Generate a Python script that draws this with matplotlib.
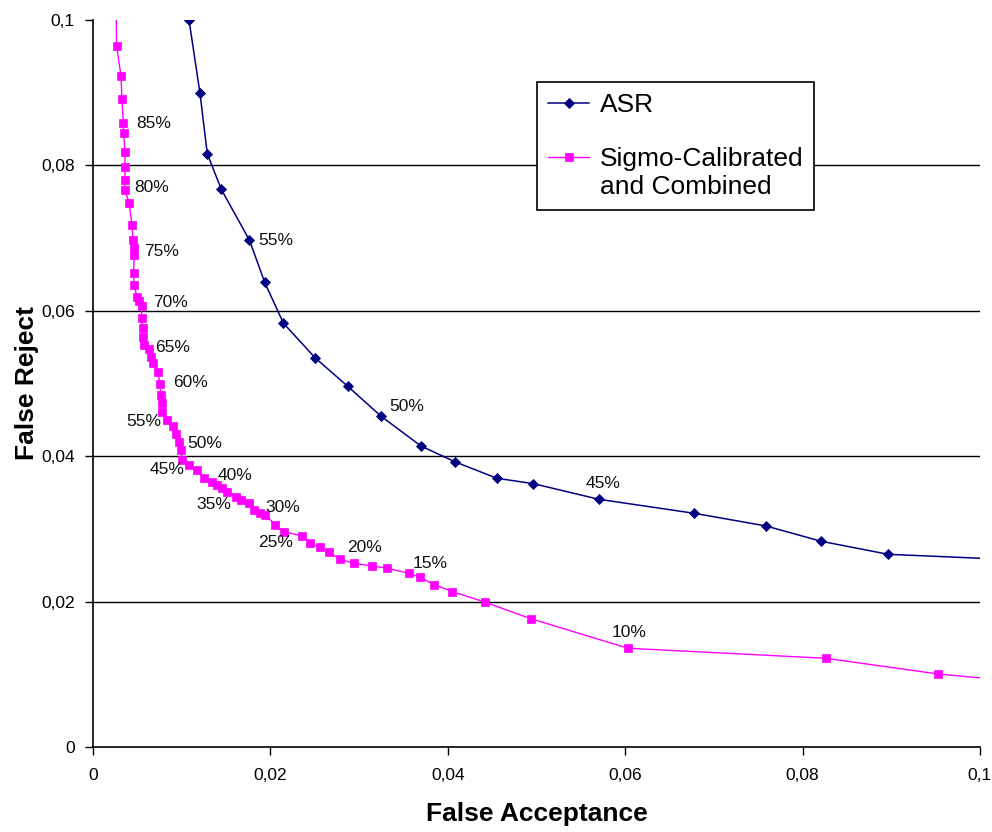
import numpy as np
import matplotlib
matplotlib.use("Agg")
import matplotlib.pyplot as plt
from matplotlib.lines import Line2D

plt.rcParams['font.family'] = ['Liberation Sans', 'DejaVu Sans']

# ASR curve (false acceptance, false reject)
asr_fa = [0.01082, 0.01206, 0.01288, 0.01446, 0.01764, 0.01936, 0.02146, 0.02506,
          0.02873, 0.03247, 0.03697, 0.04086, 0.04554, 0.04965, 0.05703, 0.0678,
          0.07588, 0.08208, 0.08966, 0.1050]
asr_fr = [0.1000, 0.0899, 0.0816, 0.0767, 0.0697, 0.0639, 0.0583, 0.0535,
          0.0496, 0.0455, 0.0414, 0.0392, 0.03696, 0.03622, 0.03407, 0.03214,
          0.0304, 0.0283, 0.0265, 0.0257]

# Sigmo-Calibrated and Combined curve
sig_fa = [0.0026, 0.00266, 0.00315, 0.00326, 0.00341, 0.00344, 0.0036, 0.0036,
          0.0036, 0.0036, 0.00408, 0.00438, 0.0045, 0.00457, 0.00464, 0.00457,
          0.00464, 0.00494, 0.0052, 0.00547, 0.00547, 0.00558, 0.00565, 0.00576,
          0.00633, 0.00652, 0.00671, 0.00727, 0.00756, 0.00764, 0.00775, 0.00783,
          0.00839, 0.00896, 0.00933, 0.0097, 0.00989, 0.01008, 0.01082, 0.01176,
          0.01251, 0.01345, 0.01401, 0.01457, 0.01513, 0.01607, 0.01663, 0.01757,
          0.01813, 0.01888, 0.01944, 0.02056, 0.0215, 0.02356, 0.02446, 0.02561,
          0.0266, 0.02783, 0.02942, 0.03145, 0.0332, 0.03562, 0.03685, 0.0385,
          0.04053, 0.04415, 0.04935, 0.06031, 0.08263, 0.09527, 0.1045]
sig_fr = [0.1015, 0.0964, 0.0923, 0.0891, 0.0858, 0.0844, 0.0819, 0.0798,
          0.0780, 0.0766, 0.0748, 0.0718, 0.0697, 0.0686, 0.0677, 0.0652,
          0.0636, 0.0619, 0.0613, 0.0606, 0.0590, 0.0576, 0.0564, 0.0553,
          0.0548, 0.0537, 0.0528, 0.0516, 0.0499, 0.0484, 0.0473, 0.0461,
          0.0450, 0.0441, 0.0431, 0.0420, 0.0409, 0.0395, 0.0388, 0.0381,
          0.03696, 0.03649, 0.03604, 0.03558, 0.03512, 0.03443, 0.03398, 0.03352,
          0.0326, 0.03214, 0.03191, 0.03054, 0.02962, 0.02902, 0.0280, 0.02747,
          0.02678, 0.02582, 0.02527, 0.0249, 0.02458, 0.02389, 0.02334, 0.02233,
          0.02136, 0.01994, 0.01765, 0.01358, 0.0122, 0.01004, 0.0090]

# Percentage annotations (text, x, y)
sig_labels = ["85%", "80%", "75%", "70%", "65%", "60%", "55%", "50%",
              "45%", "40%", "35%", "30%", "25%", "20%", "15%", "10%"]
sig_lab_x = [0.00483, 0.00461, 0.00573, 0.00674, 0.00697, 0.00899, 0.00371, 0.01067,
             0.0064, 0.01404, 0.01169, 0.01944, 0.01865, 0.02865, 0.03607, 0.05843]
sig_lab_y = [0.0858, 0.0769, 0.0681, 0.0612, 0.0550, 0.0501, 0.0447, 0.0418,
             0.0382, 0.0373, 0.0333, 0.0330, 0.0281, 0.0274, 0.0253, 0.0157]
asr_labels = ["55%", "50%", "45%"]
asr_lab_x = [0.01865, 0.03337, 0.0555]
asr_lab_y = [0.0697, 0.0469, 0.0363]

ticks = [0, 0.02, 0.04, 0.06, 0.08, 0.1]
tick_labels = ["0", "0,02", "0,04", "0,06", "0,08", "0,1"]

fig = plt.figure(figsize=(9.92, 8.32), dpi=100)
ax = fig.add_axes([0.0938, 0.1022, 0.894, 0.8738])

l1, = ax.plot(asr_fa, asr_fr, color='#000080', lw=1.1, marker='D', ms=5,
              markeredgewidth=0.6, label='ASR')
l2, = ax.plot(sig_fa, sig_fr, color='#FF00FF', lw=1.0, marker='s', ms=5.5,
              markeredgewidth=0.5, label='Sigmo-Calibrated')

for t, x, y in zip(sig_labels, sig_lab_x, sig_lab_y):
    ax.text(x, y, t, fontsize=12.5, ha='left', va='center', color='#111111')
for t, x, y in zip(asr_labels, asr_lab_x, asr_lab_y):
    ax.text(x, y, t, fontsize=12.5, ha='left', va='center', color='#111111')

ax.set_xlim(0, 0.1)
ax.set_ylim(0, 0.1)
ax.set_xticks(ticks)
ax.set_xticklabels(tick_labels)
ax.set_yticks(ticks)
ax.set_yticklabels(tick_labels)
ax.tick_params(axis='both', direction='out', length=6, width=1, labelsize=12.5)
ax.tick_params(axis='x', pad=9)
ax.tick_params(axis='y', pad=7)

# horizontal grid lines only, none on the top edge
ax.yaxis.grid(True, color='black', lw=1)
ax.yaxis.get_gridlines()[-1].set_visible(False)
ax.yaxis.get_gridlines()[0].set_visible(False)
ax.set_axisbelow(True)

for s in ['top', 'right']:
    ax.spines[s].set_visible(False)
for s in ['left', 'bottom']:
    ax.spines[s].set_linewidth(1.2)

ax.set_xlabel('False Acceptance', fontsize=19, fontweight='bold', labelpad=14)
ax.set_ylabel('False Reject', fontsize=19, fontweight='bold', labelpad=2)

# legend: blank rows so the handle sits on the first text line
blank = Line2D([], [], linestyle='none')
leg = ax.legend([l1, blank, l2, blank], ['ASR', ' ', 'Sigmo-Calibrated', 'and Combined'],
                loc='upper left', bbox_to_anchor=(537 / 992, 1 - 82 / 832),
                bbox_transform=fig.transFigure, borderaxespad=0, fontsize=19,
                fancybox=False, framealpha=1, edgecolor='black', labelspacing=0.12,
                handlelength=1.55, handletextpad=0.4, borderpad=0.42)
leg.get_frame().set_linewidth(1.2)

fig.savefig('out.png', dpi=100)
